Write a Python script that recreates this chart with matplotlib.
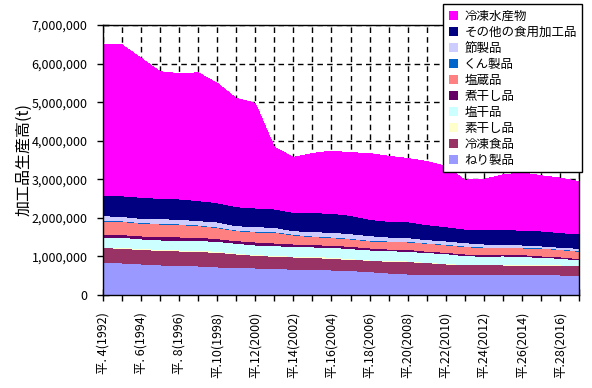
import matplotlib
matplotlib.use("Agg")
import matplotlib.pyplot as plt
from matplotlib.patches import Rectangle
import numpy as np

plt.rcParams['font.family'] = ['Noto Sans CJK JP', 'DejaVu Sans']

years = list(range(1992, 2018))
heisei = [y - 1988 for y in years]
tick_labels = [(f"平. {h}({y})" if h < 10 else f"平.{h}({y})") if i % 2 == 0 else ""
               for i, (h, y) in enumerate(zip(heisei, years))]

# values in thousand tonnes (bottom to top of the stack)
neri = [838, 830, 804, 778, 769, 752, 726, 717, 700, 691, 665, 657, 648, 631, 605, 570, 544, 519, 536, 536, 527, 527, 527, 527, 519, 501]
reitou_shokuhin = [389, 380, 372, 380, 372, 372, 380, 346, 328, 311, 320, 320, 294, 294, 294, 302, 320, 320, 268, 242, 251, 251, 242, 242, 251, 251]
suboshi = [17, 26, 26, 26, 26, 35, 26, 17, 17, 26, 17, 26, 35, 17, 9, 17, 17, 9, 9, 17, 9, 9, 9, 9, 9, 9]
enkan = [251, 259, 251, 242, 251, 251, 259, 259, 251, 251, 251, 242, 259, 259, 259, 259, 251, 251, 259, 225, 216, 225, 216, 199, 173, 147]
niboshi = [86, 70, 78, 86, 86, 86, 69, 69, 78, 69, 69, 60, 52, 60, 52, 43, 52, 35, 35, 43, 43, 35, 52, 35, 35, 35]
enzou = [337, 340, 328, 328, 320, 302, 285, 259, 259, 277, 233, 207, 199, 190, 181, 190, 190, 207, 190, 190, 181, 173, 173, 199, 190, 190]
kunsei = [17, 17, 17, 17, 17, 17, 17, 17, 17, 17, 17, 17, 17, 17, 17, 17, 17, 9, 17, 17, 17, 9, 9, 9, 9, 17]
fushi = [121, 112, 112, 121, 121, 112, 130, 112, 121, 112, 95, 112, 121, 121, 121, 104, 95, 86, 86, 86, 78, 86, 69, 52, 52, 60]
sonota = [536, 536, 544, 527, 527, 519, 501, 493, 484, 475, 475, 493, 493, 475, 423, 406, 415, 389, 372, 354, 380, 389, 380, 389, 380, 372]
reitou_suisan = [3917, 3913, 3608, 3284, 3251, 3314, 3096, 2810, 2714, 1600, 1427, 1535, 1613, 1625, 1708, 1690, 1639, 1637, 1568, 1269, 1298, 1408, 1493, 1431, 1414, 1359]

names = ["ねり製品", "冷凍食品", "素干し品", "塩干品", "煮干し品", "塩蔵品",
         "くん製品", "節製品", "その他の食用加工品", "冷凍水産物"]
colors = ["#9999FF", "#993366", "#FFFFCC", "#CCFFFF", "#660066", "#FF8080",
          "#0066CC", "#CCCCFF", "#000080", "#FF00FF"]

series = [neri, reitou_shokuhin, suboshi, enkan, niboshi, enzou,
          kunsei, fushi, sonota, reitou_suisan]
data = np.array(series, dtype=float) * 1000.0
x = np.arange(len(years))

fig = plt.figure(figsize=(5.92, 3.88), dpi=100)
ax = fig.add_axes([103/592, 1 - 295/388, (579 - 103)/592, (295 - 25)/388])

ax.stackplot(x, data, colors=colors, linewidth=0, antialiased=False)

ax.set_xlim(0, len(years) - 1)
ax.set_ylim(0, 7000000)
ax.set_yticks(np.arange(0, 7000001, 1000000))
ax.set_yticklabels([f"{v:,}" for v in range(0, 7000001, 1000000)], fontsize=9)
ax.set_xticks(x)
ax.set_xticklabels(tick_labels, rotation=90, fontsize=9, va='top')

ax.tick_params(axis='both', direction='inout', length=8, width=1, colors='black')
ax.tick_params(axis='y', pad=7)
ax.tick_params(axis='x', pad=8)

ax.set_axisbelow(True)
ax.grid(True, color='black', linestyle=(0, (4, 3)), linewidth=1)
for s in ax.spines.values():
    s.set_linewidth(1)
    s.set_color('black')

ax.set_ylabel("加工品生産高(t)", fontsize=11.5, labelpad=4)
ax.yaxis.set_label_coords(-0.148, 0.5)

handles = [Rectangle((0, 0), 1, 1, facecolor=c, edgecolor='none') for c in colors]
leg = fig.legend(handles[::-1], names[::-1], loc='upper left',
                 bbox_to_anchor=(443/592, 1 - 4/388), fontsize=9,
                 frameon=True, fancybox=False, framealpha=1,
                 edgecolor='black', handlelength=0.75, handleheight=0.75,
                 handletextpad=0.5, labelspacing=0.24, borderpad=0.45,
                 borderaxespad=0)
leg.get_frame().set_linewidth(1)

fig.savefig("out.png", dpi=100)
